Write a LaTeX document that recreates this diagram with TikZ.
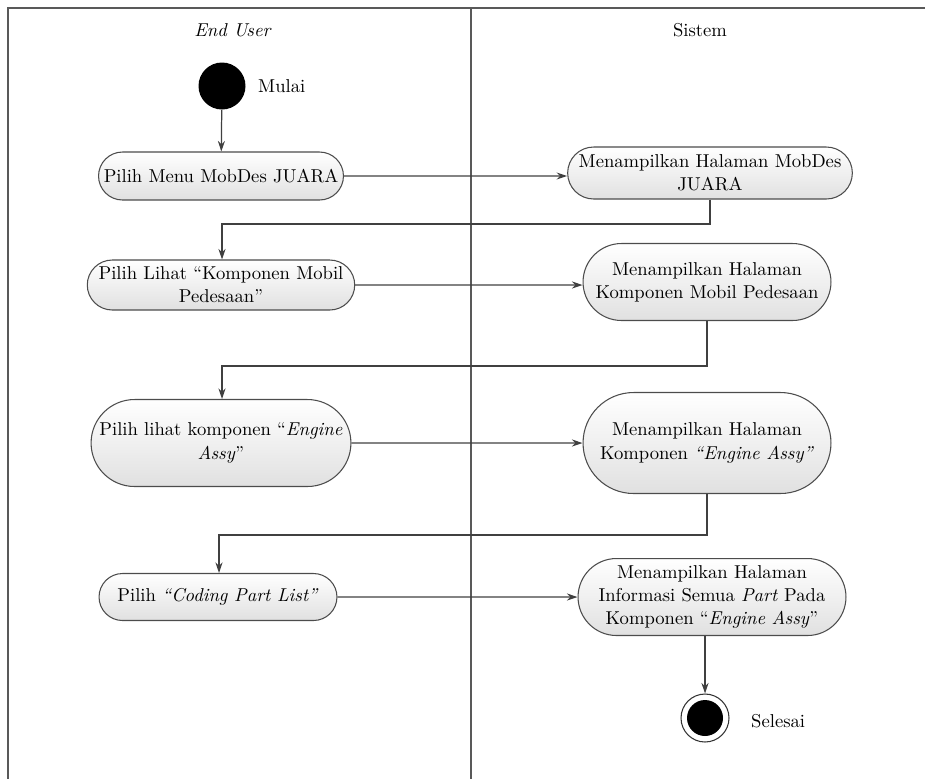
\documentclass[tikz,border=0pt]{standalone}
\usetikzlibrary{arrows.meta,shapes.misc,calc}

\begin{document}
\begin{tikzpicture}[x=0.02cm,y=-0.02cm,>={Stealth[length=6pt,width=4pt]},
  line/.style={draw=black!75,line width=0.7pt},
  act/.style={rounded rectangle,draw=black!70,line width=0.6pt,top color=white,bottom color=black!12,
    align=center,inner sep=2pt,font=\fontsize{10.6}{13.2}\selectfont},
  start/.style={circle,fill=black,minimum size=0.94cm,inner sep=0pt},
  stop/.style={circle,draw=black!80,line width=0.6pt,minimum size=0.96cm,inner sep=0pt,
    path picture={\fill[black] (path picture bounding box.center) circle (0.36cm);}},
  lbl/.style={font=\fontsize{10.6}{13.2}\selectfont}]
\useasboundingbox (0,0) rectangle (925,779);
% swimlanes
\draw[draw=black!65,line width=1.2pt] (925,8) -- (8,8) -- (8,779);
\draw[draw=black!65,line width=1.2pt] (471,8) -- (471,779);
\node[lbl] (hUser) at (233,30) {\textit{End User}};
\node[lbl] (hSys) at (700,30) {Sistem};

% activities
\node[start] (mulai) at (222,86) {};
\node[lbl,anchor=west] (tMulai) at (252,86) {Mulai};
\node[act,minimum width=5.04cm,minimum height=0.96cm] (a1) at (221,176) {Pilih Menu MobDes JUARA};
\node[act,minimum width=5.54cm,minimum height=1.04cm] (s1) at (710,173) {Menampilkan Halaman MobDes\\JUARA};
\node[act,minimum width=5.04cm,minimum height=1.0cm] (a2) at (221,285) {Pilih Lihat ``Komponen Mobil\\Pedesaan''};
\node[act,minimum width=5.1cm,minimum height=1.54cm] (s2) at (707,282) {Menampilkan Halaman\\Komponen Mobil Pedesaan};
\node[act,minimum width=5.04cm,minimum height=1.74cm] (a3) at (221,443) {Pilih lihat komponen ``\textit{Engine}\\\textit{Assy}''};
\node[act,minimum width=5.1cm,minimum height=2.02cm] (s3) at (707,443) {Menampilkan Halaman\\Komponen \textit{``Engine Assy''}};
\node[act,minimum width=4.9cm,minimum height=0.94cm] (a4) at (218,597) {Pilih \textit{``Coding Part List''}};
\node[act,minimum width=5.5cm,minimum height=1.54cm] (s4) at (712,597) {Menampilkan Halaman\\Informasi Semua \textit{Part} Pada\\Komponen ``\textit{Engine Assy}''};
\node[stop] (selesai) at (705,718) {};
\node[lbl,anchor=west] (tSelesai) at (745,721) {Selesai};

% bends
\coordinate (k1) at (222,224);
\coordinate (k2) at (222,366);
\coordinate (k3) at (219,535);

% flows
\draw[line,->] (mulai) -- (a1);
\draw[line,->] (a1) -- (s1.west |- a1);
\draw[line,->] (s1.south -| 710,0) |- (k1) -- (a2.north -| k1);
\draw[line,->] (a2) -- (s2.west |- a2);
\draw[line,->] (s2.south) |- (k2) -- (a3.north -| k2);
\draw[line,->] (a3) -- (s3.west |- a3);
\draw[line,->] (s3.south) |- (k3) -- (a4.north -| k3);
\draw[line,->] (a4) -- (s4.west |- a4);
\draw[line,->] (s4.south -| selesai) -- (selesai);
\end{tikzpicture}
\end{document}
